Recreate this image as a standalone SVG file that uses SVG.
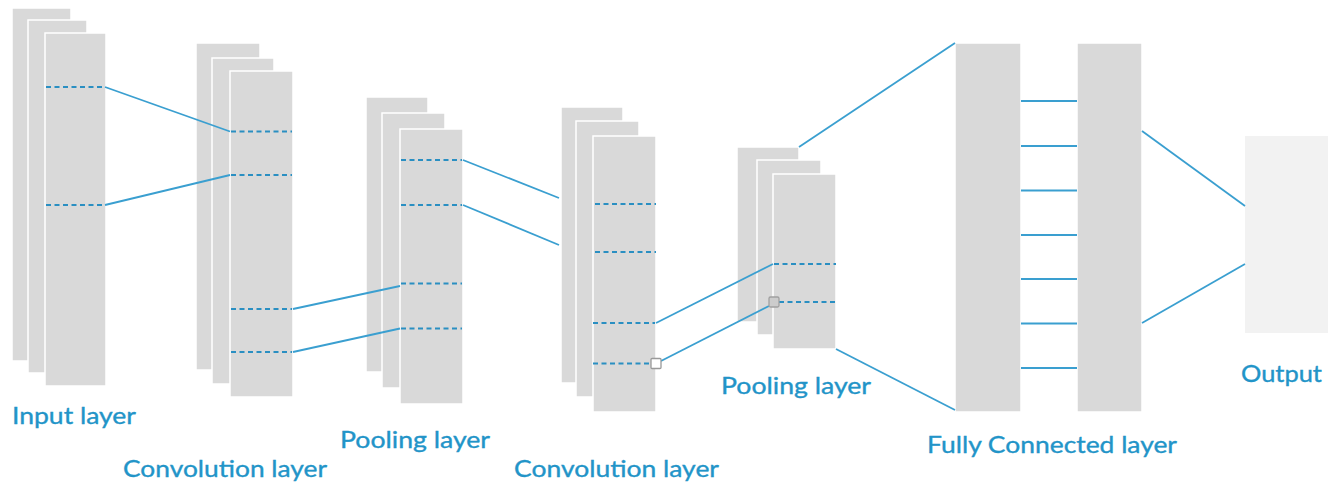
<svg xmlns="http://www.w3.org/2000/svg" width="1337" height="486" viewBox="0 0 1337 486">
<style>
.l{fill:#d9d9d9;stroke:#ffffff;stroke-width:1.5}
.o{fill:#f2f2f2}
.d{stroke:#2a8fc2;stroke-width:1.8;stroke-dasharray:5 3.5;fill:none}
.c{stroke:#3a9fd0;stroke-width:1.8;fill:none}
.t{font-family:Lato,"Open Sans",sans-serif;font-size:23px;fill:#2294c8;stroke:#2294c8;stroke-width:0.35}
.h1{fill:#ffffff;stroke:#999999;stroke-width:1.3}
.h2{fill:#cccccc;stroke:#a0a0a0;stroke-width:1.3}
</style>
<rect width="1337" height="486" fill="#ffffff"/>
<g id="input-layer">
<rect class="l" x="12" y="8" width="59" height="353"/>
<rect class="l" x="28" y="20" width="59" height="353"/>
<rect class="l" x="45" y="33" width="61" height="353"/>
<line class="d" x1="46" y1="87" x2="105" y2="87"/>
<line class="d" x1="46" y1="205" x2="105" y2="205"/>
<text class="t" x="12" y="424" textLength="124" lengthAdjust="spacingAndGlyphs">Input layer</text>
</g>
<g id="conv-layer-1">
<rect class="l" x="196" y="43" width="64" height="327"/>
<rect class="l" x="212" y="58" width="62" height="326"/>
<rect class="l" x="230" y="71" width="63" height="326"/>
<line class="d" x1="231" y1="131.5" x2="292" y2="131.5"/>
<line class="d" x1="231" y1="175" x2="292" y2="175"/>
<line class="d" x1="231" y1="309" x2="292" y2="309"/>
<line class="d" x1="231" y1="352" x2="292" y2="352"/>
<text class="t" x="123" y="477" textLength="204" lengthAdjust="spacingAndGlyphs">Convolution layer</text>
</g>
<g id="pooling-layer-1">
<rect class="l" x="366" y="97" width="62" height="275"/>
<rect class="l" x="382" y="113" width="63" height="275"/>
<rect class="l" x="400" y="129" width="63" height="275"/>
<line class="d" x1="401" y1="160" x2="462" y2="160"/>
<line class="d" x1="401" y1="205" x2="462" y2="205"/>
<line class="d" x1="401" y1="283.5" x2="462" y2="283.5"/>
<line class="d" x1="401" y1="328.5" x2="462" y2="328.5"/>
<text class="t" x="340" y="448" textLength="150" lengthAdjust="spacingAndGlyphs">Pooling layer</text>
</g>
<g id="conv-layer-2">
<rect class="l" x="561" y="107" width="62" height="276"/>
<rect class="l" x="576" y="121" width="63" height="276"/>
<rect class="l" x="593" y="136" width="63" height="276"/>
<line class="d" x1="595" y1="204" x2="656" y2="204"/>
<line class="d" x1="595" y1="252" x2="656" y2="252"/>
<line class="d" x1="593" y1="323" x2="655" y2="323"/>
<line class="d" x1="593" y1="363.5" x2="652" y2="363.5"/>
<text class="t" x="514" y="477" textLength="205" lengthAdjust="spacingAndGlyphs">Convolution layer</text>
</g>
<g id="pooling-layer-2">
<rect class="l" x="737" y="147" width="62" height="175"/>
<rect class="l" x="757" y="160" width="64" height="175"/>
<rect class="l" x="773" y="174" width="63" height="175"/>
<line class="d" x1="774" y1="264" x2="836" y2="264"/>
<line class="d" x1="779" y1="302" x2="836" y2="302"/>
<text class="t" x="721" y="394" textLength="150" lengthAdjust="spacingAndGlyphs">Pooling layer</text>
</g>
<g id="fully-connected-layer">
<rect class="l" x="955" y="43" width="66" height="369"/>
<rect class="l" x="1077" y="43" width="65" height="369"/>
<text class="t" x="927" y="453" textLength="250" lengthAdjust="spacingAndGlyphs">Fully Connected layer</text>
</g>
<g id="output">
<rect class="o" x="1245" y="136" width="83" height="197"/>
<text class="t" x="1241" y="382" textLength="81" lengthAdjust="spacingAndGlyphs">Output</text>
</g>
<g id="connectors">
<polyline class="c" points="105,87 230,131.5"/>
<polyline class="c" points="105,205 230,175"/>
<polyline class="c" points="293,309 400,286"/>
<polyline class="c" points="293,352 400,328.5"/>
<polyline class="c" points="463,160 559,198"/>
<polyline class="c" points="463,205 559,245"/>
<polyline class="c" points="656,323 773,264"/>
<polyline class="c" points="661,361 769,306"/>
<polyline class="c" points="799,147 955,43"/>
<polyline class="c" points="836,349 955,410"/>
<line class="c" x1="1021" y1="101" x2="1077" y2="101"/>
<line class="c" x1="1021" y1="146" x2="1077" y2="146"/>
<line class="c" x1="1021" y1="190.5" x2="1077" y2="190.5"/>
<line class="c" x1="1021" y1="235" x2="1077" y2="235"/>
<line class="c" x1="1021" y1="279" x2="1077" y2="279"/>
<line class="c" x1="1021" y1="323.5" x2="1077" y2="323.5"/>
<line class="c" x1="1021" y1="368" x2="1077" y2="368"/>
<polyline class="c" points="1142,131 1245,206"/>
<polyline class="c" points="1142,323 1245,264"/>
<rect class="h1" x="651" y="358.5" width="10" height="10" rx="1"/>
<rect class="h2" x="769" y="297" width="10" height="10" rx="1.5"/>
</g>
</svg>
